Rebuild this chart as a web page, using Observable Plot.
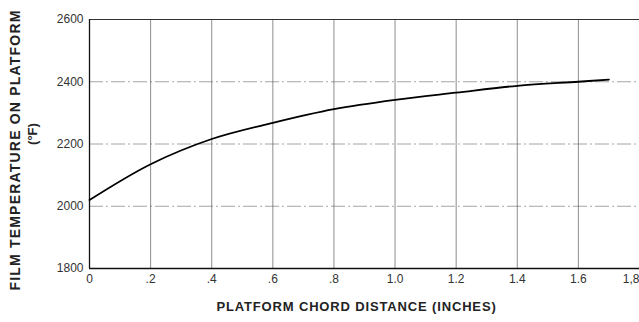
<!DOCTYPE html>
<html><head><meta charset="utf-8">
<script src="https://cdn.jsdelivr.net/npm/d3@7"></script>
<script src="https://cdn.jsdelivr.net/npm/@observablehq/plot@0.6"></script>
<style>
body{margin:0;background:#fff;}
svg{font-family:"Liberation Sans",Arial,sans-serif;}
</style></head>
<body><div id="chart"></div>
<script>
const chordDistance = [0, 0.2, 0.4, 0.6, 0.8, 1.0, 1.2, 1.4, 1.6, 1.7];
const filmTemp = [2020, 2135, 2216, 2268, 2312, 2342, 2365, 2387, 2400, 2407];
const xTicks = [0, 0.2, 0.4, 0.6, 0.8, 1.0, 1.2, 1.4, 1.6, 1.8];
const xTickLabels = ["0", ".2", ".4", ".6", ".8", "1.0", "1.2", "1.4", "1.6", "1,8"];
const yTicks = [1800, 2000, 2200, 2400, 2600];
const xTitle = "PLATFORM CHORD DISTANCE (INCHES)";
const yTitle1 = "FILM TEMPERATURE ON PLATFORM";
const yTitle2 = "(°F)";

const data = chordDistance.map((x, i) => ({x, y: filmTemp[i]}));
const xFmt = (d) => xTickLabels[xTicks.findIndex(t => Math.abs(t - d) < 1e-9)];

const chart = Plot.plot({
  width: 639,
  height: 322,
  marginLeft: 89,
  marginRight: 0,
  marginTop: 19,
  marginBottom: 54,
  style: {fontSize: "12px", color: "#333", background: "#fff"},
  x: {domain: [0, 1.8]},
  y: {domain: [1800, 2600]},
  marks: [
    Plot.ruleX(xTicks.slice(1), {stroke: "#555", strokeWidth: 0.9, strokeOpacity: 0.75}),
    Plot.ruleY(yTicks.slice(1, 4), {stroke: "#555", strokeWidth: 0.9, strokeOpacity: 0.6, strokeDasharray: "14,3,2,3"}),
    Plot.ruleY([2600], {stroke: "#333", strokeWidth: 1}),
    Plot.ruleY([1800], {stroke: "#111", strokeWidth: 1.3}),
    Plot.ruleX([0], {stroke: "#111", strokeWidth: 1.3}),
    Plot.axisX({ticks: xTicks.slice(0, -1), tickFormat: xFmt, tickSize: 0, tickPadding: 6, label: null, fontSize: 12}),
    Plot.axisX({ticks: xTicks.slice(-1), tickFormat: xFmt, tickSize: 0, tickPadding: 6, label: null, fontSize: 12, textAnchor: "end"}),
    Plot.axisY({ticks: yTicks, tickFormat: d => String(d), tickSize: 0, tickPadding: 6, label: null, fontSize: 12}),
    Plot.line(data, {x: "x", y: "y", curve: "catmull-rom", stroke: "#000", strokeWidth: 1.8}),
    Plot.text([xTitle], {frameAnchor: "bottom", dx: -8, dy: 42, text: d => d, fontSize: 13, fontWeight: "bold", fill: "#222"}),
    Plot.text([yTitle1], {frameAnchor: "left", textAnchor: "middle", dx: -74, dy: 6, rotate: -90, text: d => d, fontSize: 14, fontWeight: "bold", fill: "#222"}),
    Plot.text([yTitle2], {frameAnchor: "left", textAnchor: "middle", dx: -57, dy: -10, rotate: -90, text: d => d, fontSize: 13, fontWeight: "bold", fill: "#222"})
  ]
});
d3.select(chart).selectAll("text").each(function() {
  const t = this.textContent;
  if (t === xTitle) this.setAttribute("letter-spacing", "0.85");
  if (t === yTitle1) this.setAttribute("letter-spacing", "1.2");
});
document.getElementById("chart").appendChild(chart);
</script>
</body></html>
